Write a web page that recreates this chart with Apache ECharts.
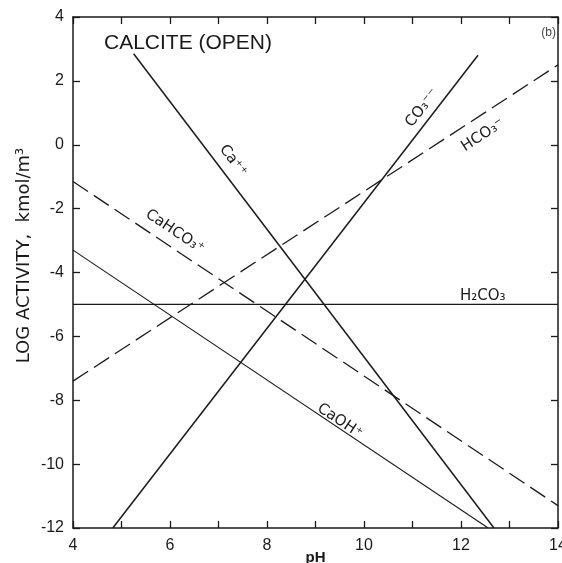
<!DOCTYPE html>
<html><head><meta charset="utf-8">
<script src="https://cdn.jsdelivr.net/npm/echarts@6/dist/echarts.min.js"></script>
<style>html,body{margin:0;padding:0;background:#fff}#c{width:562px;height:563px}</style>
</head><body><div id="c"></div>
<script>
// ---- data (pH, log activity) ----
const xMin = 4, xMax = 14, yMin = -12, yMax = 4;
const xTickLabels = [4, 6, 8, 10, 12, 14];
const yTickLabels = [-12, -10, -8, -6, -4, -2, 0, 2, 4];
const caIon   = [[5.25, 2.85], [12.68, -12]];
const co3Ion  = [[4.82, -12], [12.35, 2.8]];
const hco3Ion = [[4, -7.4], [14, 2.5]];
const cahco3  = [[4, -1.15], [14, -11.3]];
const h2co3   = [[4, -5], [14, -5]];
const caoh    = [[4, -3.3], [12.56, -12]];
// label anchor points (data coords) and their text
const lineLabels = [
  {text: 'Ca⁺⁺',    at: [7.3, -0.5],   line: caIon},
  {text: 'CO₃⁻⁻',   at: [11.2, 1.15],  line: co3Ion},
  {text: 'HCO₃⁻',   at: [12.45, 0.3],  line: hco3Ion},
  {text: 'CaHCO₃⁺', at: [6.1, -2.72],  line: cahco3},
  {text: 'H₂CO₃',   at: [12.45, -4.75], line: h2co3},
  {text: 'CaOH⁺',   at: [9.5, -8.65],  line: caoh}
];
const titleText = 'CALCITE (OPEN)';

const W = 562, H = 563;
const grid = {left: 73, right: 4, top: 17, bottom: 35};
const kx = (W - grid.left - grid.right) / (xMax - xMin);
const ky = (H - grid.top - grid.bottom) / (yMax - yMin);
function angleOf(l) {
  const m = (l[1][1] - l[0][1]) / (l[1][0] - l[0][0]);
  return Math.atan(m * ky / kx) * 180 / Math.PI;
}
const ink = '#1a1a1a';
const font = 'Liberation Sans';

function lineSeries(name, data, dashed, width) {
  return {
    type: 'line', name, data, symbol: 'none', silent: true, clip: true,
    lineStyle: {color: ink, width: width, type: dashed ? [18, 7] : 'solid'},
    animation: false
  };
}

const series = [
  lineSeries('Ca++', caIon, false, 1.5),
  lineSeries('CO3--', co3Ion, false, 1.5),
  lineSeries('HCO3-', hco3Ion, true, 1.3),
  lineSeries('CaHCO3+', cahco3, true, 1.3),
  lineSeries('H2CO3', h2co3, false, 1.3),
  lineSeries('CaOH+', caoh, false, 1.1)
];
series.push({
  type: 'scatter', data: [], silent: true, animation: false,
  markPoint: {
    symbol: 'circle', symbolSize: 0, animation: false,
    data: lineLabels.map(l => ({
      coord: l.at,
      label: {show: true, position: 'inside', formatter: l.text,
        rotate: angleOf(l.line), color: ink, fontSize: 15,
        fontFamily: 'DejaVu Sans'}
    }))
  }
});

const chart = echarts.init(document.getElementById('c'), null, {renderer: 'canvas'});
const axisLine = {show: true, onZero: false, lineStyle: {color: ink, width: 1.5}};
const tick = {show: true, inside: true, length: 7, lineStyle: {color: ink, width: 1.3}};
chart.setOption({
  backgroundColor: '#fff',
  animation: false,
  title: {text: titleText, left: 99, top: 28,
    textStyle: {fontFamily: font, fontWeight: 'normal', fontSize: 21, color: ink}},
  grid: Object.assign({containLabel: false, outerBoundsMode: 'none'}, grid),
  graphic: [{type: 'text', right: 6, top: 27,
    style: {text: '(b)', fontSize: 12, fontFamily: font, fill: '#444'}}],
  xAxis: [{
    type: 'value', min: xMin, max: xMax, interval: 1, position: 'bottom',
    name: 'pH', nameLocation: 'middle', nameGap: 22, nameMoveOverlap: false,
    nameTextStyle: {fontFamily: font, fontSize: 15, fontWeight: 'bold', color: ink},
    axisLine, splitLine: {show: false}, axisTick: tick,
    axisLabel: {fontFamily: font, fontSize: 16, color: ink, margin: 10,
      formatter: v => xTickLabels.includes(v) ? String(v) : ''}
  }, {
    type: 'value', min: xMin, max: xMax, interval: 1, position: 'top',
    axisLine, splitLine: {show: false}, axisTick: tick,
    axisLabel: {show: false}
  }],
  yAxis: [{
    type: 'value', min: yMin, max: yMax, interval: 2, position: 'left',
    name: 'LOG ACTIVITY,  kmol/m³', nameLocation: 'middle', nameGap: 40,
    nameMoveOverlap: false,
    nameTextStyle: {fontFamily: 'DejaVu Sans', fontSize: 18, color: ink, padding: [0, 0, 0, 34]},
    axisLine, splitLine: {show: false}, axisTick: tick,
    axisLabel: {fontFamily: font, fontSize: 16, color: ink, margin: 9,
      formatter: v => yTickLabels.includes(v) ? String(v) : ''}
  }, {
    type: 'value', min: yMin, max: yMax, interval: 2, position: 'right',
    axisLine, splitLine: {show: false}, axisTick: tick,
    axisLabel: {show: false}
  }],
  series
});
</script>
</body></html>
